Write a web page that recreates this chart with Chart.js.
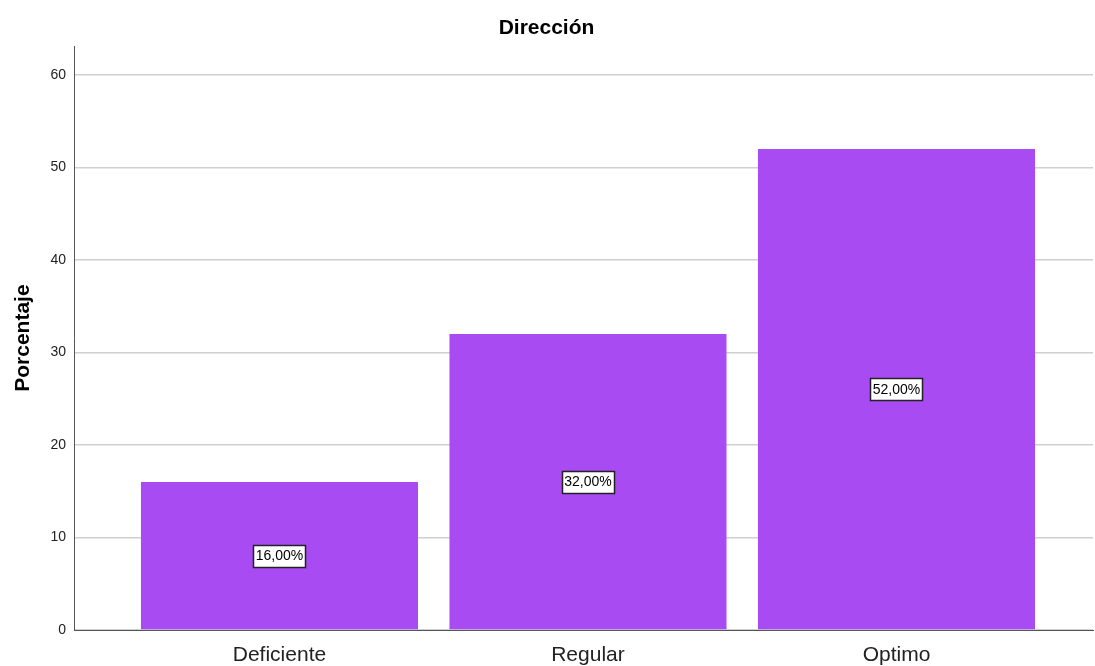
<!DOCTYPE html>
<html>
<head>
<meta charset="utf-8">
<script src="https://cdn.jsdelivr.net/npm/chart.js@4"></script>
<style>
  body { margin: 0; background: #fff; }
  #wrap { width: 1095px; height: 666px; }
</style>
</head>
<body>
<div id="wrap"><canvas id="chart" width="1095" height="666"></canvas></div>
<script>
const categorias = ['Deficiente', 'Regular', 'Optimo'];
const porcentajes = [16, 32, 52];
const ticksY = [0, 10, 20, 30, 40, 50, 60];

const FONT = '"Liberation Sans", Arial, sans-serif';

// etiquetas con caja blanca en el centro de cada barra
const etiquetasBarras = {
  id: 'etiquetasBarras',
  afterDatasetsDraw(chart) {
    const ctx = chart.ctx;
    const meta = chart.getDatasetMeta(0);
    ctx.save();
    ctx.font = '14px ' + FONT;
    ctx.textAlign = 'center';
    ctx.textBaseline = 'middle';
    meta.data.forEach((bar, i) => {
      const p = bar.getProps(['x', 'y', 'base'], true);
      const cy = (p.y + p.base) / 2;
      const txt = porcentajes[i].toFixed(2).replace('.', ',') + '%';
      const w = Math.round(ctx.measureText(txt).width + 5);
      const h = 22;
      const x0 = Math.round(p.x - w / 2), y0 = Math.round(cy - h / 2);
      ctx.fillStyle = '#fff';
      ctx.fillRect(x0, y0, w, h);
      ctx.strokeStyle = '#222';
      ctx.lineWidth = 1.5;
      ctx.strokeRect(x0 + 0.5, y0 + 0.5, w, h);
      ctx.fillStyle = '#000';
      ctx.fillText(txt, p.x, cy + 1);
    });
    ctx.restore();
  }
};

new Chart(document.getElementById('chart'), {
  type: 'bar',
  data: {
    datasets: [{
      data: porcentajes.map((v, i) => ({ x: i, y: v })),
      backgroundColor: '#a94bf2',
      borderWidth: 0,
      barPercentage: 0.898,
      categoryPercentage: 1
    }]
  },
  options: {
    responsive: false,
    animation: false,
    layout: { padding: { left: 0, right: 2, top: 0, bottom: 0 } },
    plugins: {
      legend: { display: false },
      tooltip: { enabled: false },
      title: {
        display: true,
        text: 'Dirección',
        color: '#000',
        font: { family: FONT, size: 21, weight: 'bold' },
        padding: { top: 16, bottom: 5 }
      }
    },
    scales: {
      x: {
        type: 'linear',
        offset: false,
        min: -0.666,
        max: 2.637,
        afterBuildTicks: (s) => { s.ticks = categorias.map((c, i) => ({ value: i })); },
        afterFit: (s) => { s.height = 36; },
        grid: { display: false, drawTicks: false },
        border: { display: true, color: '#555', width: 1 },
        ticks: {
          callback: (v) => categorias[v],
          color: '#222',
          padding: 13,
          maxRotation: 0,
          font: { family: FONT, size: 21 }
        }
      },
      y: {
        min: 0,
        max: 63.1,
        afterBuildTicks: (s) => { s.ticks = ticksY.map(v => ({ value: v })); },
        afterFit: (s) => { s.width = 74; },
        grid: { color: '#cfcfcf', lineWidth: 1.5, drawTicks: false },
        border: { display: true, color: '#555', width: 1 },
        ticks: {
          color: '#222',
          padding: 8,
          font: { family: FONT, size: 14 }
        },
        title: {
          display: true,
          text: 'Porcentaje',
          color: '#000',
          padding: { top: 11, bottom: 0 },
          font: { family: FONT, size: 21, weight: 'bold' }
        }
      }
    }
  },
  plugins: [etiquetasBarras]
});
</script>
</body>
</html>
